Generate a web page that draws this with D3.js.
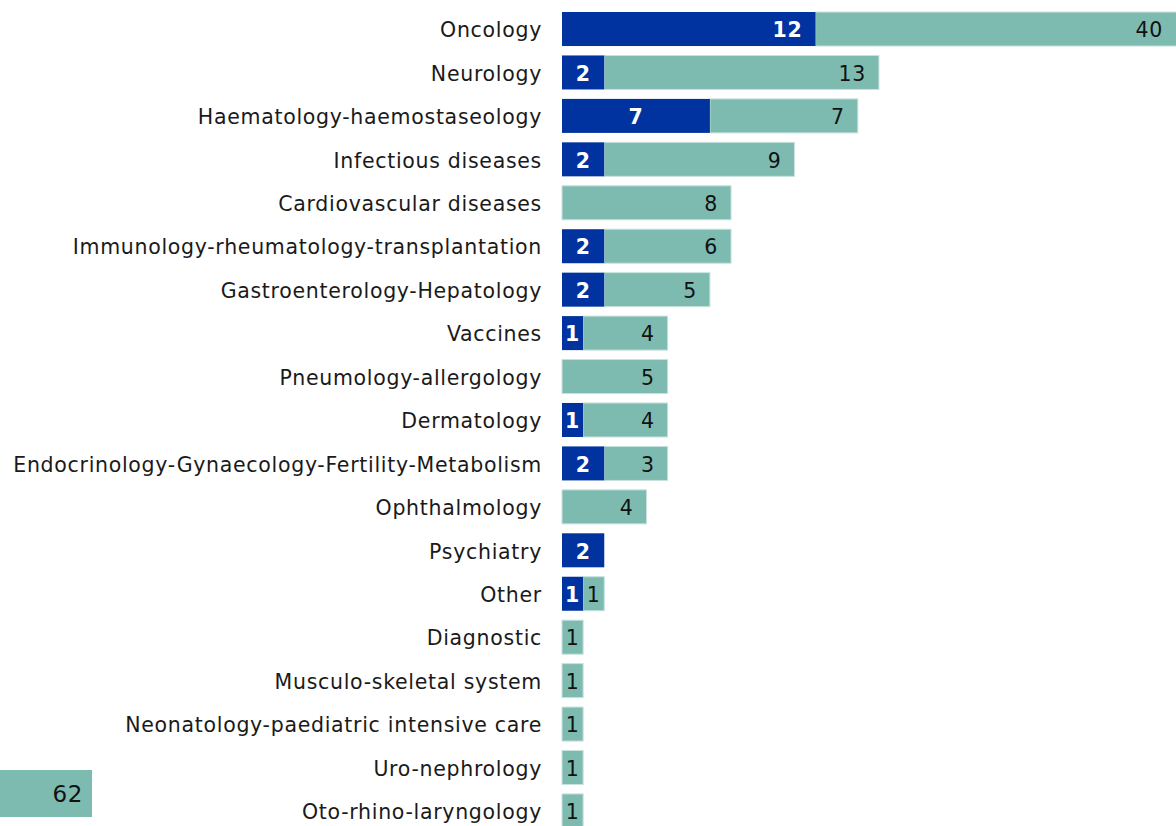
<!DOCTYPE html>
<html>
<head>
<meta charset="utf-8">
<script src="https://cdn.jsdelivr.net/npm/d3@7"></script>
<style>
  body { margin: 0; background: #fff; }
  svg text { font-family: "DejaVu Sans", Verdana, sans-serif; }
</style>
</head>
<body>
<svg id="chart"></svg>
<script>
// Therapeutic areas, top to bottom
const categories = [
    "Oncology", "Neurology", "Haematology-haemostaseology", "Infectious diseases",
    "Cardiovascular diseases", "Immunology-rheumatology-transplantation",
    "Gastroenterology-Hepatology", "Vaccines", "Pneumology-allergology",
    "Dermatology", "Endocrinology-Gynaecology-Fertility-Metabolism", "Ophthalmology",
    "Psychiatry", "Other", "Diagnostic", "Musculo-skeletal system",
    "Neonatology-paediatric intensive care", "Uro-nephrology", "Oto-rhino-laryngology"
];
// dark blue segment
const darkValues = [12, 2, 7, 2, 0, 2, 2, 1, 0, 1, 2, 0, 2, 1, 0, 0, 0, 0, 0];
// teal segment
const tealValues = [40, 13, 7, 9, 8, 6, 5, 4, 5, 4, 3, 4, 0, 1, 1, 1, 1, 1, 1];
// lone box at the bottom left
const cornerValue = 62;

const width = 1176, height = 826;
const darkColor = "#0033a0";
const tealColor = "#7dbbb1";

const svg = d3.select("#chart")
    .attr("width", width)
    .attr("height", height);

// 21.13 px per unit, bars start at 562, clipped at the right edge
const x = d3.scaleLinear()
    .domain([0, (width - 562) / 21.13])
    .range([562, width]);

const y = d3.scaleBand()
    .domain(categories)
    .range([7.3, 7.3 + 43.44 * categories.length])
    .paddingInner(0.217)
    .paddingOuter(0.1085);

svg.append("defs").append("clipPath")
    .attr("id", "clip")
    .append("rect")
    .attr("x", 0).attr("y", 0)
    .attr("width", width).attr("height", height);

const rows = categories.map((c, i) => ({cat: c, dark: darkValues[i], teal: tealValues[i]}));

// category labels
svg.append("g")
    .selectAll("text")
    .data(rows)
    .join("text")
    .attr("x", 542)
    .attr("y", d => y(d.cat) + y.bandwidth() / 2)
    .attr("dy", "0.4em")
    .attr("text-anchor", "end")
    .attr("font-size", 20.5)
    .attr("letter-spacing", 0.7)
    .attr("fill", "#1a1a1a")
    .text(d => d.cat);

const bars = svg.append("g").attr("clip-path", "url(#clip)");

// teal segments
bars.selectAll(".teal")
    .data(rows.filter(d => d.teal > 0))
    .join("rect")
    .attr("class", "teal")
    .attr("x", d => x(d.dark))
    .attr("y", d => y(d.cat))
    .attr("width", d => x(d.dark + d.teal) - x(d.dark))
    .attr("height", y.bandwidth())
    .attr("fill", tealColor)
    .attr("stroke", "#c8e2dd")
    .attr("stroke-width", 1);

// dark segments
bars.selectAll(".dark")
    .data(rows.filter(d => d.dark > 0))
    .join("rect")
    .attr("class", "dark")
    .attr("x", x(0))
    .attr("y", d => y(d.cat))
    .attr("width", d => x(d.dark) - x(0))
    .attr("height", y.bandwidth())
    .attr("fill", darkColor);

// dark labels: centred, or right aligned in a long segment
svg.append("g")
    .selectAll("text")
    .data(rows.filter(d => d.dark > 0))
    .join("text")
    .attr("x", d => {
        const w = x(d.dark) - x(0);
        return w > 200 ? x(d.dark) - 13 : x(d.dark / 2);
    })
    .attr("text-anchor", d => (x(d.dark) - x(0)) > 200 ? "end" : "middle")
    .attr("y", d => y(d.cat) + y.bandwidth() / 2)
    .attr("dy", "0.4em")
    .attr("font-size", 20.5)
    .attr("letter-spacing", 0.7)
    .attr("font-weight", "bold")
    .attr("fill", "#fff")
    .text(d => d.dark);

// teal labels: right aligned near the (visible) end, centred if narrow
svg.append("g")
    .selectAll("text")
    .data(rows.filter(d => d.teal > 0))
    .join("text")
    .attr("x", d => {
        const x0 = x(d.dark), x1 = Math.min(x(d.dark + d.teal), width);
        return (x1 - x0) < 40 ? (x0 + x1) / 2 : x1 - 13;
    })
    .attr("text-anchor", d => {
        const x0 = x(d.dark), x1 = Math.min(x(d.dark + d.teal), width);
        return (x1 - x0) < 40 ? "middle" : "end";
    })
    .attr("y", d => y(d.cat) + y.bandwidth() / 2)
    .attr("dy", "0.4em")
    .attr("font-size", 20.5)
    .attr("letter-spacing", 0.7)
    .attr("fill", "#111")
    .text(d => d.teal);

// corner box
const corner = svg.append("g");
corner.append("rect")
    .attr("x", 0).attr("y", 770)
    .attr("width", 92).attr("height", 47)
    .attr("fill", tealColor);
corner.append("text")
    .attr("x", 83).attr("y", 793.5)
    .attr("dy", "0.38em")
    .attr("text-anchor", "end")
    .attr("font-size", 23)
    .attr("letter-spacing", 0.6)
    .attr("fill", "#111")
    .text(cornerValue);
</script>
</body>
</html>
